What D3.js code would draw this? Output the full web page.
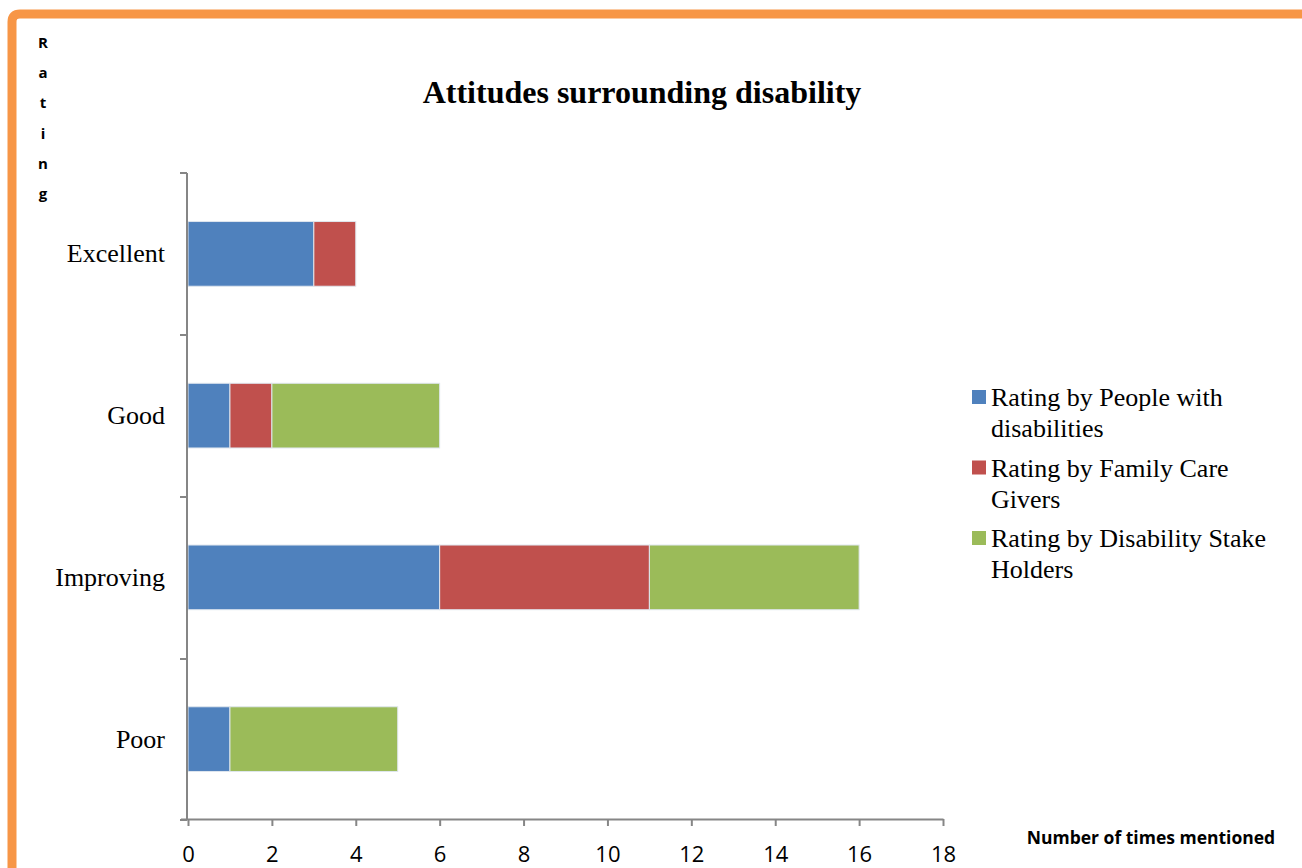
<!DOCTYPE html>
<html lang="en">
<head>
  <meta charset="UTF-8">
  <title>Attitudes surrounding disability</title>
  <script src="https://d3js.org/d3.v7.min.js"></script>
  <style>
    body { margin: 0; background: #fff; }
  </style>
</head>
<body>
  <script>
    var categories = ["Excellent", "Good", "Improving", "Poor"];
    var seriesNames = [
      ["Rating by People with", "disabilities"],
      ["Rating by Family Care", "Givers"],
      ["Rating by Disability Stake", "Holders"]
    ];
    var peopleWithDisabilities = [3, 1, 6, 1];
    var familyCareGivers = [1, 1, 5, 0];
    var stakeHolders = [0, 4, 5, 4];
    var xTicks = [0, 2, 4, 6, 8, 10, 12, 14, 16, 18];
    var colors = ["#4F81BD", "#C0504D", "#9BBB59"];

    var width = 1302, height = 868;

    var svg = d3.select("body")
                .append("svg")
                .attr("width", width)
                .attr("height", height);

    // orange frame, running off the right and bottom edges
    svg.append("path")
       .attr("d", "M12,868 L12,22 Q12,14 20,14 L1302,14")
       .style("fill", "none")
       .style("stroke", "#F79646")
       .style("stroke-width", 9);

    var rows = categories.map(function(c, i) {
      return { cat: c, v: [peopleWithDisabilities[i], familyCareGivers[i], stakeHolders[i]] };
    });

    var stack = d3.stack()
                  .keys([0, 1, 2])
                  .value(function(d, k) { return d.v[k]; });
    var layers = stack(rows);

    var x = d3.scaleLinear().domain([0, 18]).range([188, 943]);
    var y = d3.scaleBand().domain(categories).range([173, 820]).paddingInner(0.6).paddingOuter(0.3);

    var g = svg.append("g");

    g.selectAll(".layer")
     .data(layers)
     .enter()
     .append("g")
     .attr("class", "layer")
     .style("fill", function(d, i) { return colors[i]; })
     .selectAll("rect")
     .data(function(d) { return d; })
     .enter()
     .append("rect")
     .attr("x", function(d) { return x(d[0]); })
     .attr("width", function(d) { return x(d[1]) - x(d[0]); })
     .attr("y", function(d) { return y(d.data.cat); })
     .attr("height", y.bandwidth())
     .style("stroke", function(d) { return d[1] > d[0] ? "#dfe6ee" : "none"; })
     .style("stroke-width", 1);

    // x axis
    var xAxis = svg.append("g")
                   .attr("transform", "translate(0,819)")
                   .call(d3.axisBottom(x).tickValues(xTicks).tickSize(7).tickSizeOuter(0));
    xAxis.select(".domain").attr("d", "M181,0.5H943.5").style("stroke", "#868686").style("stroke-width", 2);
    xAxis.selectAll(".tick line").style("stroke", "#868686").style("stroke-width", 2);
    xAxis.selectAll(".tick text")
         .attr("y", 43)
         .attr("dy", 0)
         .style("font-family", "'Open Sans', 'Liberation Sans', sans-serif")
         .style("font-size", "22px")
         .style("fill", "#000");

    // y axis with ticks between categories
    var yEdges = [173, 335, 497, 659, 820];
    svg.append("line")
       .attr("x1", 187).attr("x2", 187)
       .attr("y1", 173).attr("y2", 820)
       .style("stroke", "#868686").style("stroke-width", 2);
    svg.selectAll(".ytick")
       .data(yEdges)
       .enter()
       .append("line")
       .attr("x1", 180).attr("x2", 187)
       .attr("y1", function(d) { return d; })
       .attr("y2", function(d) { return d; })
       .style("stroke", "#868686").style("stroke-width", 2);

    svg.selectAll(".ylabel")
       .data(categories)
       .enter()
       .append("text")
       .attr("x", 165)
       .attr("y", function(d) { return y(d) + y.bandwidth() / 2; })
       .attr("dy", "0.33em")
       .attr("text-anchor", "end")
       .style("font-family", "'Liberation Serif', 'Times New Roman', serif")
       .style("font-size", "26px")
       .text(function(d) { return d; });

    // title
    svg.append("text")
       .attr("x", 642)
       .attr("y", 103)
       .attr("text-anchor", "middle")
       .style("font-family", "'Liberation Serif', 'Times New Roman', serif")
       .style("font-weight", "bold")
       .style("font-size", "32px")
       .text("Attitudes surrounding disability");

    // vertical "Rating" label
    svg.selectAll(".rl")
       .data("Rating".split(""))
       .enter()
       .append("text")
       .attr("x", 43)
       .attr("y", function(d, i) { return 48 + i * 30.2; })
       .attr("text-anchor", "middle")
       .style("font-family", "'Open Sans', 'Liberation Sans', sans-serif")
       .style("font-weight", "bold")
       .style("font-size", "15px")
       .text(function(d) { return d; });

    svg.append("text")
       .attr("x", 1151)
       .attr("y", 844)
       .attr("text-anchor", "middle")
       .style("font-family", "'Open Sans', 'Liberation Sans', sans-serif")
       .style("font-weight", "bold")
       .style("font-size", "17.5px")
       .text("Number of times mentioned");

    // legend
    var legend = svg.selectAll(".legend")
                    .data(seriesNames)
                    .enter()
                    .append("g")
                    .attr("transform", function(d, i) { return "translate(972," + (390 + i * 70.5) + ")"; });
    legend.append("rect")
          .attr("width", 14).attr("height", 14)
          .style("fill", function(d, i) { return colors[i]; });
    legend.each(function(d) {
      var t = d3.select(this).append("text")
                .attr("x", 19)
                .attr("y", 16)
                .style("font-family", "'Liberation Serif', 'Times New Roman', serif")
                .style("font-size", "26px");
      t.selectAll("tspan")
       .data(d)
       .enter()
       .append("tspan")
       .attr("x", 19)
       .attr("dy", function(s, i) { return i === 0 ? 0 : 31; })
       .text(function(s) { return s; });
    });
  </script>
</body>
</html>
